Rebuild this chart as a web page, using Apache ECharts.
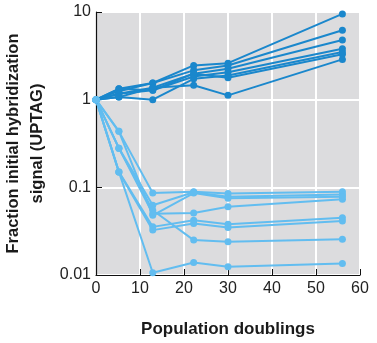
<!DOCTYPE html>
<html>
<head>
<meta charset="utf-8">
<script src="https://cdn.jsdelivr.net/npm/echarts@6/dist/echarts.min.js"></script>
<style>html,body{margin:0;padding:0;background:#fff}#c{width:377px;height:343px}</style>
</head>
<body>
<div id="c"></div>
<script>
var doublings = [0, 5.2, 12.9, 22.2, 30, 56];
var yTicks = [0.01, 0.1, 1, 10];
var xTicks = [0, 10, 20, 30, 40, 50, 60];

var up1 = [1, 1.33, 1.55, 2.46, 2.61, 9.5];
var up2 = [1, 1.25, 1.55, 2.16, 2.45, 6.2];
var up3 = [1, 1.17, 1.37, 1.98, 2.25, 4.8];
var up4 = [1, 1.33, 1.28, 1.84, 2.06, 3.8];
var up5 = [1, 1.07, 1.0, 1.73, 1.89, 3.5];
var up6 = [1, 1.17, 1.28, 1.98, 1.78, 3.3];
var up7 = [1, 1.07, 1.37, 1.46, 1.12, 2.88];

var down1 = [1, 0.435, 0.086, 0.089, 0.085, 0.089];
var down2 = [1, 0.28, 0.0625, 0.088, 0.078, 0.083];
var down3 = [1, 0.28, 0.050, 0.051, 0.060, 0.073];
var down4 = [1, 0.15, 0.0354, 0.042, 0.038, 0.045];
var down5 = [1, 0.15, 0.0325, 0.0387, 0.0348, 0.0414];
var down6 = [1, 0.28, 0.0548, 0.025, 0.0239, 0.0256];
var down7 = [1, 0.15, 0.0106, 0.0139, 0.0124, 0.01355];
var down8 = [1, 0.435, 0.048, 0.086, 0.075, 0.078];

var upSeries = [up1, up2, up3, up4, up5, up6, up7];
var downSeries = [down1, down2, down3, down4, down5, down6, down7, down8];

var DARK = '#1a87cc';
var LIGHT = '#62bdf0';

function mk(vals, color) {
  return {
    type: 'line',
    data: vals.map(function (v, i) { return [doublings[i], v]; }),
    symbol: 'circle',
    symbolSize: 7,
    lineStyle: { color: color, width: 2 },
    itemStyle: { color: color },
    animation: false,
    silent: true
  };
}

var series = [];
upSeries.forEach(function (s) { series.push(mk(s, DARK)); });
downSeries.forEach(function (s) { series.push(mk(s, LIGHT)); });

var chart = echarts.init(document.getElementById('c'));
chart.setOption({
  animation: false,
  grid: {
    left: 96, right: 17, top: 12, bottom: 68,
    containLabel: false, outerBoundsMode: 'none',
    show: true, backgroundColor: '#dcdcde', borderWidth: 0
  },
  xAxis: {
    type: 'value', min: 0, max: 60, interval: 10,
    name: 'Population doublings', nameLocation: 'middle', nameGap: 46,
    nameTextStyle: { fontFamily: 'Liberation Sans', fontWeight: 'bold', fontSize: 17, color: '#1a1a1a' },
    axisLine: { lineStyle: { color: '#111', width: 1.2 } },
    axisTick: { inside: true, length: 6, lineStyle: { color: '#111' } },
    axisLabel: { fontFamily: 'Liberation Sans', fontSize: 16, color: '#222', margin: 6,
      formatter: function (v) { return xTicks.indexOf(v) >= 0 ? String(v) : ''; } },
    splitLine: { show: true, lineStyle: { color: '#ffffff', width: 2 } }
  },
  yAxis: {
    type: 'log', logBase: 10, min: 0.01, max: 10,
    name: 'Fraction initial hybridization\nsignal (UPTAG)', nameLocation: 'middle', nameGap: 37,
    nameTextStyle: { fontFamily: 'Liberation Sans', fontWeight: 'bold', fontSize: 16.5, color: '#1a1a1a', lineHeight: 24 },
    axisLine: { show: true, lineStyle: { color: '#111', width: 1.2 } },
    axisTick: { show: true, inside: true, length: 6, lineStyle: { color: '#111' } },
    axisLabel: { fontFamily: 'Liberation Sans', fontSize: 16, color: '#222', margin: 5,
      formatter: function (v) {
        for (var i = 0; i < yTicks.length; i++) {
          if (Math.abs(Math.log10(v) - Math.log10(yTicks[i])) < 1e-6) return String(yTicks[i]);
        }
        return '';
      } },
    splitLine: { show: true, lineStyle: { color: '#ffffff', width: 2 } }
  },
  series: series
});
</script>
</body>
</html>
